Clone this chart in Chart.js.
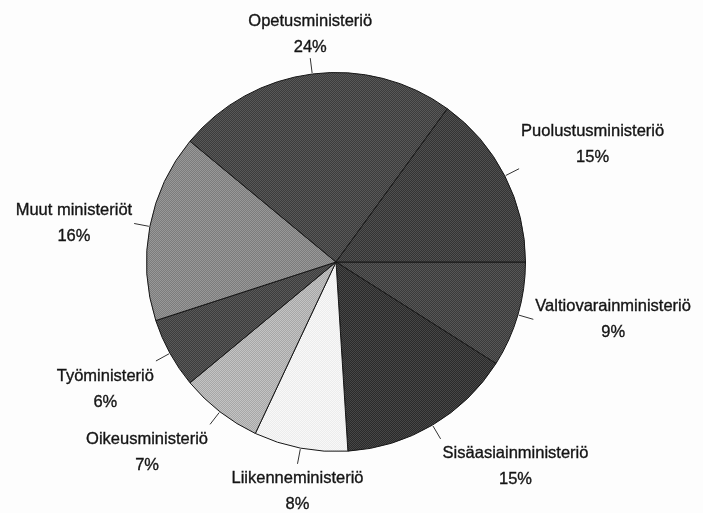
<!DOCTYPE html>
<html>
<head>
<meta charset="utf-8">
<script src="https://cdn.jsdelivr.net/npm/chart.js@4/dist/chart.umd.min.js"></script>
<style>
  html, body { margin: 0; padding: 0; background: #fdfdfd; }
  #wrap { width: 703px; height: 513px; }
</style>
</head>
<body>
<div id="wrap"><canvas id="pie" width="703" height="513"></canvas></div>
<script>
// clockwise from 3 o'clock
const ministries = ['Valtiovarainministeriö', 'Sisäasiainministeriö', 'Liikenneministeriö',
  'Oikeusministeriö', 'Työministeriö', 'Muut ministeriöt', 'Opetusministeriö', 'Puolustusministeriö'];
const shares = [9, 15, 8, 7, 6, 16, 24, 15];
const shades = ['#484848', '#383838', '#f2f2f2', '#b5b5b5', '#4b4b4b', '#8a8a8a', '#4a4a4a', '#424242'];

// small checker pattern to mimic the printed stipple
function stipple(hex) {
  const c = document.createElement('canvas');
  c.width = 2; c.height = 2;
  const g = c.getContext('2d');
  const v = parseInt(hex.slice(1, 3), 16);
  const d = v > 220 ? 6 : 14;
  const lo = Math.max(v - d, 0), hi = Math.min(v + d, 255);
  g.fillStyle = 'rgb(' + lo + ',' + lo + ',' + lo + ')';
  g.fillRect(0, 0, 2, 2);
  g.fillStyle = 'rgb(' + hi + ',' + hi + ',' + hi + ')';
  g.fillRect(0, 0, 1, 1);
  g.fillRect(1, 1, 1, 1);
  return g.createPattern(c, 'repeat');
}

const calloutPlugin = {
  id: 'callouts',
  afterDatasetsDraw(chart) {
    const ctx = chart.ctx;
    const meta = chart.getDatasetMeta(0);
    ctx.save();
    ctx.font = '16.5px "Liberation Sans", Arial, sans-serif';
    ctx.lineWidth = 1;
    meta.data.forEach(function(arc, i) {
      const p = arc.getProps(['x', 'y', 'startAngle', 'endAngle', 'outerRadius'], true);
      const mid = (p.startAngle + p.endAngle) / 2;
      const cos = Math.cos(mid), sin = Math.sin(mid);
      const r1 = p.outerRadius + 1, r2 = p.outerRadius + 16;
      const ex = p.x + cos * r2, ey = p.y + sin * r2;
      ctx.strokeStyle = '#333';
      ctx.lineWidth = 1;
      ctx.beginPath();
      ctx.moveTo(p.x + cos * r1, p.y + sin * r1);
      ctx.lineTo(ex, ey);
      ctx.stroke();

      const lines = [ministries[i], shares[i] + '%'];
      const lh = 26;
      const w = Math.max.apply(null, lines.map(function(t) { return ctx.measureText(t).width; }));
      let cx;
      if (cos > 0.3) cx = ex + 2 + w / 2;
      else if (cos < -0.3) cx = ex - 2 - w / 2;
      else cx = ex;
      let top;
      if (sin < -0.3) top = ey - lh * 2 + 2;
      else if (sin > 0.3) top = ey + 2;
      else top = ey - lh;
      ctx.textAlign = 'center';
      ctx.textBaseline = 'middle';
      ctx.fillStyle = '#151515';
      ctx.strokeStyle = '#151515';
      ctx.lineWidth = 0.35;
      lines.forEach(function(t, k) {
        const ty = top + lh / 2 + k * lh;
        ctx.fillText(t, cx, ty);
        ctx.strokeText(t, cx, ty);
      });
    });
    ctx.restore();
  }
};

new Chart(document.getElementById('pie'), {
  type: 'pie',
  data: {
    labels: ministries,
    datasets: [{
      data: shares,
      backgroundColor: shades.map(stipple),
      borderColor: '#161616',
      borderWidth: 1,
      borderAlign: 'center'
    }]
  },
  options: {
    responsive: false,
    animation: false,
    rotation: 90,
    layout: { padding: { left: 146, right: 177, top: 72, bottom: 61 } },
    plugins: {
      legend: { display: false },
      tooltip: { enabled: false }
    }
  },
  plugins: [calloutPlugin]
});
</script>
</body>
</html>
